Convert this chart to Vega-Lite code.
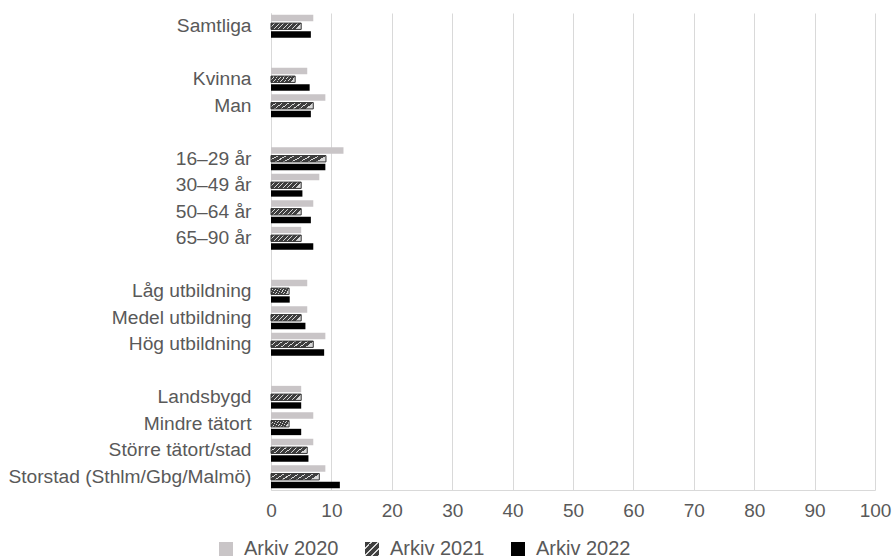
{
  "$schema": "https://vega.github.io/schema/vega-lite/v6.json",
  "width": 604,
  "height": 477,
  "autosize": "none",
  "padding": {"left": 271, "top": 13, "right": 18, "bottom": 70},
  "background": "white",
  "config": {
    "view": {"stroke": null},
    "font": "Liberation Sans"
  },
  "data": {
    "values": [
      {"cat": "Samtliga", "year": "Arkiv 2020", "value": 7},
      {"cat": "Samtliga", "year": "Arkiv 2021", "value": 5},
      {"cat": "Samtliga", "year": "Arkiv 2022", "value": 6.6},
      {"cat": "Kvinna", "year": "Arkiv 2020", "value": 6},
      {"cat": "Kvinna", "year": "Arkiv 2021", "value": 4},
      {"cat": "Kvinna", "year": "Arkiv 2022", "value": 6.4},
      {"cat": "Man", "year": "Arkiv 2020", "value": 9},
      {"cat": "Man", "year": "Arkiv 2021", "value": 7},
      {"cat": "Man", "year": "Arkiv 2022", "value": 6.6},
      {"cat": "16–29 år", "year": "Arkiv 2020", "value": 12},
      {"cat": "16–29 år", "year": "Arkiv 2021", "value": 9.1},
      {"cat": "16–29 år", "year": "Arkiv 2022", "value": 9},
      {"cat": "30–49 år", "year": "Arkiv 2020", "value": 8},
      {"cat": "30–49 år", "year": "Arkiv 2021", "value": 5},
      {"cat": "30–49 år", "year": "Arkiv 2022", "value": 5.2},
      {"cat": "50–64 år", "year": "Arkiv 2020", "value": 7},
      {"cat": "50–64 år", "year": "Arkiv 2021", "value": 5},
      {"cat": "50–64 år", "year": "Arkiv 2022", "value": 6.6},
      {"cat": "65–90 år", "year": "Arkiv 2020", "value": 5},
      {"cat": "65–90 år", "year": "Arkiv 2021", "value": 5},
      {"cat": "65–90 år", "year": "Arkiv 2022", "value": 7},
      {"cat": "Låg utbildning", "year": "Arkiv 2020", "value": 6},
      {"cat": "Låg utbildning", "year": "Arkiv 2021", "value": 3},
      {"cat": "Låg utbildning", "year": "Arkiv 2022", "value": 3.1},
      {"cat": "Medel utbildning", "year": "Arkiv 2020", "value": 6},
      {"cat": "Medel utbildning", "year": "Arkiv 2021", "value": 5},
      {"cat": "Medel utbildning", "year": "Arkiv 2022", "value": 5.7},
      {"cat": "Hög utbildning", "year": "Arkiv 2020", "value": 9},
      {"cat": "Hög utbildning", "year": "Arkiv 2021", "value": 7},
      {"cat": "Hög utbildning", "year": "Arkiv 2022", "value": 8.8},
      {"cat": "Landsbygd", "year": "Arkiv 2020", "value": 5},
      {"cat": "Landsbygd", "year": "Arkiv 2021", "value": 5},
      {"cat": "Landsbygd", "year": "Arkiv 2022", "value": 5},
      {"cat": "Mindre tätort", "year": "Arkiv 2020", "value": 7},
      {"cat": "Mindre tätort", "year": "Arkiv 2021", "value": 3},
      {"cat": "Mindre tätort", "year": "Arkiv 2022", "value": 5},
      {"cat": "Större tätort/stad", "year": "Arkiv 2020", "value": 7},
      {"cat": "Större tätort/stad", "year": "Arkiv 2021", "value": 6},
      {"cat": "Större tätort/stad", "year": "Arkiv 2022", "value": 6.2},
      {"cat": "Storstad (Sthlm/Gbg/Malmö)", "year": "Arkiv 2020", "value": 9},
      {"cat": "Storstad (Sthlm/Gbg/Malmö)", "year": "Arkiv 2021", "value": 8},
      {"cat": "Storstad (Sthlm/Gbg/Malmö)", "year": "Arkiv 2022", "value": 11.4}
    ]
  },
  "mark": {"type": "bar", "strokeWidth": 1},
  "encoding": {
    "y": {
      "field": "cat",
      "type": "nominal",
      "title": null,
      "scale": {
        "domain": ["Samtliga", "_1", "Kvinna", "Man", "_2", "16–29 år", "30–49 år", "50–64 år", "65–90 år", "_3", "Låg utbildning", "Medel utbildning", "Hög utbildning", "_4", "Landsbygd", "Mindre tätort", "Större tätort/stad", "Storstad (Sthlm/Gbg/Malmö)"],
        "paddingInner": 0.14,
        "paddingOuter": 0.07
      },
      "axis": {
        "labelExpr": "indexof(datum.value, '_') === 0 ? '' : datum.value",
        "ticks": false,
        "domainColor": "#d9d9d9",
        "domainWidth": 1,
        "labelColor": "#595959",
        "labelFontSize": 19.2,
        "labelPadding": 20,
        "labelLimit": 300
      }
    },
    "yOffset": {
      "field": "year",
      "type": "nominal",
      "scale": {"paddingInner": 0.23, "paddingOuter": 0}
    },
    "x": {
      "field": "value",
      "type": "quantitative",
      "title": null,
      "scale": {"domain": [0, 100], "nice": false},
      "axis": {
        "values": [0, 10, 20, 30, 40, 50, 60, 70, 80, 90, 100],
        "ticks": false,
        "grid": true,
        "gridColor": "#d9d9d9",
        "gridWidth": 1,
        "domainColor": "#d9d9d9",
        "labelColor": "#595959",
        "labelFontSize": 19,
        "labelPadding": 11,
        "labelFlush": false,
        "labelOverlap": false
      }
    },
    "fill": {
      "condition": {
        "test": "datum.year === 'Arkiv 2021'",
        "value": {
          "gradient": "linear",
          "x1": 0, "y1": 0, "x2": 1, "y2": 0.2,
          "stops": [
            {"offset": 0, "color": "#3f3f3f"}, {"offset": 0.11, "color": "#3f3f3f"}, {"offset": 0.11, "color": "#d9d9d9"}, {"offset": 0.1429, "color": "#d9d9d9"},
            {"offset": 0.1429, "color": "#3f3f3f"}, {"offset": 0.254, "color": "#3f3f3f"}, {"offset": 0.254, "color": "#d9d9d9"}, {"offset": 0.2857, "color": "#d9d9d9"},
            {"offset": 0.2857, "color": "#3f3f3f"}, {"offset": 0.397, "color": "#3f3f3f"}, {"offset": 0.397, "color": "#d9d9d9"}, {"offset": 0.4286, "color": "#d9d9d9"},
            {"offset": 0.4286, "color": "#3f3f3f"}, {"offset": 0.54, "color": "#3f3f3f"}, {"offset": 0.54, "color": "#d9d9d9"}, {"offset": 0.5714, "color": "#d9d9d9"},
            {"offset": 0.5714, "color": "#3f3f3f"}, {"offset": 0.683, "color": "#3f3f3f"}, {"offset": 0.683, "color": "#d9d9d9"}, {"offset": 0.7143, "color": "#d9d9d9"},
            {"offset": 0.7143, "color": "#3f3f3f"}, {"offset": 0.826, "color": "#3f3f3f"}, {"offset": 0.826, "color": "#d9d9d9"}, {"offset": 0.8571, "color": "#d9d9d9"},
            {"offset": 0.8571, "color": "#3f3f3f"}, {"offset": 0.968, "color": "#3f3f3f"}, {"offset": 0.968, "color": "#d9d9d9"}, {"offset": 1, "color": "#d9d9d9"}
          ]
        }
      },
      "field": "year",
      "type": "nominal",
      "scale": {
        "domain": ["Arkiv 2020", "Arkiv 2021", "Arkiv 2022"],
        "range": [
          "#c9c5c7",
          {"expr": "{gradient: 'linear', x1: 0, y1: 0, x2: 1, y2: 1, stops: [{offset: 0, color: '#3f3f3f'}, {offset: 0.18, color: '#3f3f3f'}, {offset: 0.18, color: '#d9d9d9'}, {offset: 0.25, color: '#d9d9d9'}, {offset: 0.25, color: '#3f3f3f'}, {offset: 0.43, color: '#3f3f3f'}, {offset: 0.43, color: '#d9d9d9'}, {offset: 0.5, color: '#d9d9d9'}, {offset: 0.5, color: '#3f3f3f'}, {offset: 0.68, color: '#3f3f3f'}, {offset: 0.68, color: '#d9d9d9'}, {offset: 0.75, color: '#d9d9d9'}, {offset: 0.75, color: '#3f3f3f'}, {offset: 0.93, color: '#3f3f3f'}, {offset: 0.93, color: '#d9d9d9'}, {offset: 1, color: '#d9d9d9'}]}"},
          "#000000"
        ]
      },
      "legend": {
        "title": null,
        "orient": "none",
        "legendX": -55,
        "legendY": 526,
        "direction": "horizontal",
        "symbolType": "square",
        "symbolSize": 196,
        "symbolStrokeWidth": 0,
        "symbolOpacity": 1,
        "labelFontSize": 20,
        "labelColor": "#595959",
        "labelOffset": 8,
        "columnPadding": 23
      }
    },
    "stroke": {
      "condition": {"test": "datum.year === 'Arkiv 2021'", "value": "#333333"},
      "value": null
    },
    "fillOpacity": {"value": 1}
  }
}
